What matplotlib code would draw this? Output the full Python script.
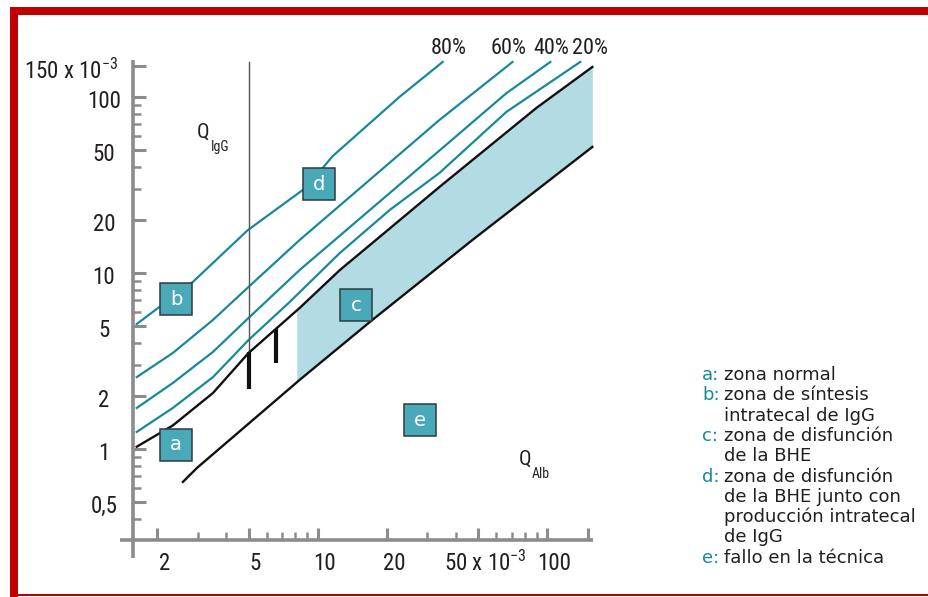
import os
import numpy as np
import matplotlib
matplotlib.use('Agg')
import matplotlib.pyplot as plt
from matplotlib import font_manager
from matplotlib.font_manager import FontProperties
from matplotlib.patches import Rectangle
from matplotlib.ticker import LogLocator, NullFormatter
from matplotlib.transforms import ScaledTranslation, blended_transform_factory

# Reiber diagram values (quotients x 10^-3)
qlim_upper_x = [1.63, 2.34, 3.50, 5.0, 8.35, 12.5, 17.3, 33.9, 89.6, 157]
qlim_upper_y = [1.03, 1.36, 2.08, 3.51, 6.33, 10.4, 14.8, 30.8, 86.6, 148]
qlim_lower_x = [2.59, 2.98, 8.35, 17.3, 47.2, 157]
qlim_lower_y = [0.65, 0.78, 2.47, 5.41, 15.4, 52]

if20_x = [1.63, 2.34, 3.50, 5.0, 7.55, 12.5, 20.6, 33.9, 66.3, 139]
if20_y = [1.25, 1.71, 2.56, 4.16, 6.84, 13.0, 22.8, 37.0, 82.2, 158]
if40_x = [1.63, 2.34, 3.50, 5.0, 8.35, 37.5, 66.3, 103]
if40_y = [1.71, 2.37, 3.56, 5.55, 10.4, 55.5, 105, 158]
if60_x = [1.63, 2.34, 3.50, 5.0, 8.35, 33.9, 70.5]
if60_y = [2.56, 3.51, 5.41, 8.33, 15.4, 74, 158]
if80_x = [1.63, 2.86, 4.96, 8.61, 10.0, 11.6, 22.7, 35.0]
if80_y = [5.13, 8.89, 17.5, 29.6, 36.5, 46.0, 100, 158]
if_labels = ['20%', '40%', '60%', '80%']
if_label_x = [154, 104, 67.7, 37.1]

shade_from = 8.11          # start of zone c
ref_line_x = 5.0           # thin vertical reference
ref_line_top = 158
mark_x = [5.0, 6.57]       # thick black marks
mark_lo = [2.19, 3.08]
mark_hi = [3.56, 4.81]

box_letters = ['a', 'b', 'c', 'd', 'e']
box_x = [2.42, 2.42, 14.7, 10.1, 27.9]
box_y = [1.06, 7.07, 6.54, 32.0, 1.46]

xtick_vals = [2, 5, 10, 20, 50, 100]
xtick_labels = ['2', '5', '10', '20', '50 x 10$\\mathregular{^{-3}}$', '100']
ytick_vals = [0.5, 1, 2, 5, 10, 20, 50, 100, 150]
ytick_labels = ['0,5', '1', '2', '5', '10', '20', '50', '100',
                '150 x 10$\\mathregular{^{-3}}$']

legend_letters = ['a', 'b', 'c', 'd', 'e']
legend_texts = ['zona normal',
                'zona de síntesis\nintratecal de IgG',
                'zona de disfunción\nde la BHE',
                'zona de disfunción\nde la BHE junto con\nproducción intratecal\nde IgG',
                'fallo en la técnica']

# colours
teal = '#17899a'
box_fill = '#4aa9b9'
shade = '#b3dbe3'
grey = '#8c8c8c'
ink = '#231f20'
red = '#c00000'

# look for a condensed face for the numbers (the original uses a narrow font)
prefs = ['liberationsansnarrow-regular', 'robotocondensed-regular',
         'roboto_condensed-regular', 'notosans-condensed.', 'dejavusanscondensed.',
         'opensans_condensed-regular', 'opensanscondensed-regular',
         'opensans-condensedregular']
found = {}
for f in font_manager.fontManager.ttflist:
    b = os.path.basename(f.fname).lower()
    for p in prefs:
        if b.startswith(p):
            found.setdefault(p, f.fname)
cond_file = None
for p in prefs:
    if p in found:
        cond_file = found[p]
        break

def cprop(size):
    if cond_file:
        return FontProperties(fname=cond_file, size=size)
    return FontProperties(family='DejaVu Sans', size=size * 0.78)

tsize = 16.5

W, H = 929, 597
fig = plt.figure(figsize=(W / 100, H / 100), dpi=100)
ax = fig.add_axes([133 / W, 1 - 540 / H, 460 / W, 479 / H])
ax.set_xscale('log')
ax.set_yscale('log')
ax.set_xlim(1.57, 158)
ax.set_ylim(0.304, 160)
for s in ax.spines.values():
    s.set_visible(False)

def px(dx, dy):
    return ScaledTranslation(dx / 100, dy / 100, fig.dpi_scale_trans)

# axis lines crossing at the origin
ax.plot([0, 0], [-18 / 479, 1.002], transform=ax.transAxes, color=grey,
        lw=2.6, clip_on=False, solid_capstyle='butt')
ax.plot([-13 / 460, 1], [0, 0], transform=ax.transAxes, color=grey,
        lw=2.6, clip_on=False, solid_capstyle='butt')

ax.set_xticks(xtick_vals + [150])
ax.set_yticks(ytick_vals)
ax.xaxis.set_minor_locator(LogLocator(base=10, subs=np.arange(2, 10)))
ax.yaxis.set_minor_locator(LogLocator(base=10, subs=np.arange(2, 10)))
ax.xaxis.set_minor_formatter(NullFormatter())
ax.yaxis.set_minor_formatter(NullFormatter())
ax.tick_params(which='both', direction='in', color=grey,
               labelbottom=False, labelleft=False)
ax.tick_params(which='major', length=9, width=2.2)
ax.tick_params(which='minor', length=6, width=1.8)

# tick labels
tx = blended_transform_factory(ax.transData, ax.transAxes)
for v, lab in zip(xtick_vals, xtick_labels):
    ax.text(v, 0, lab, transform=tx + px(7, -23), ha='center', va='center',
            fontproperties=cprop(tsize), color=ink)
ty = blended_transform_factory(ax.transAxes, ax.transData)
for v, lab in zip(ytick_vals, ytick_labels):
    if len(lab) > 4:
        ax.text(0, v, lab, transform=ty + px(-15, -5), ha='right', va='center',
                fontproperties=cprop(tsize), color=ink)
    else:
        ax.text(0, v, lab, transform=ty + px(-29, -5), ha='center', va='center',
                fontproperties=cprop(tsize), color=ink)

# zone c shading between the two limit curves
def loginterp(x, xp, yp):
    return 10 ** np.interp(np.log10(x), np.log10(xp), np.log10(yp))

fx = np.array(sorted(set([shade_from] + [v for v in qlim_upper_x + qlim_lower_x
                                          if v > shade_from])))
ax.fill_between(fx, loginterp(fx, qlim_lower_x, qlim_lower_y),
                loginterp(fx, qlim_upper_x, qlim_upper_y),
                color=shade, lw=0, zorder=1)

for xs, ys in [(if20_x, if20_y), (if40_x, if40_y), (if60_x, if60_y), (if80_x, if80_y)]:
    ax.plot(xs, ys, color=teal, lw=1.6, clip_on=False, zorder=2)
ax.plot(qlim_upper_x, qlim_upper_y, color='#111111', lw=1.7, clip_on=False, zorder=3)
ax.plot(qlim_lower_x, qlim_lower_y, color='#111111', lw=1.7, clip_on=False, zorder=3)

# percent labels above the ends of the curves
for lx, lab in zip(if_label_x, if_labels):
    ax.text(lx, 1, lab, transform=tx + px(0, 13), ha='center', va='center',
            fontproperties=cprop(16), color=ink)

ax.plot([ref_line_x, ref_line_x], [qlim_upper_y[3], ref_line_top], color='#555555',
        lw=1.0, clip_on=False, zorder=2)
for mx, lo, hi in zip(mark_x, mark_lo, mark_hi):
    ax.plot([mx, mx], [lo, hi], color='#111111', lw=3.0, solid_capstyle='butt', zorder=4)

ax.plot(box_x, box_y, 's', ms=23, mfc=box_fill, mec='#2e3b40', mew=1.1,
        ls='none', zorder=5)
for bx, by, lt in zip(box_x, box_y, box_letters):
    ax.text(bx, by, lt, ha='center', va='center', color='white', size=14,
            family='DejaVu Sans', zorder=6)

# axis titles
fig.text(203 / W, 1 - 132 / H, 'Q', fontproperties=cprop(15), color=ink,
         ha='center', va='center')
fig.text(211 / W, 1 - 147 / H, 'IgG', fontproperties=cprop(10), color=ink,
         ha='left', va='center')
fig.text(525 / W, 1 - 459 / H, 'Q', fontproperties=cprop(15), color=ink,
         ha='center', va='center')
fig.text(532 / W, 1 - 474 / H, 'Alb', fontproperties=cprop(10), color=ink,
         ha='left', va='center')

# legend
row = 0
for lt, txt in zip(legend_letters, legend_texts):
    for j, line in enumerate(txt.split('\n')):
        y = 1 - (375 + row * 20.3) / H
        if j == 0:
            fig.text(702 / W, y, lt + ':', color=teal, size=13,
                     family='DejaVu Sans', ha='left', va='center')
        fig.text(724 / W, y, line, color=ink, size=13, family='DejaVu Sans',
                 ha='left', va='center')
        row += 1

# red frame
fig.add_artist(Rectangle((10 / W, 1 - 15 / H), 1, 8 / H, transform=fig.transFigure,
                         color=red, lw=0))
fig.add_artist(Rectangle((10 / W, 0), 8 / W, 1 - 7 / H, transform=fig.transFigure,
                         color=red, lw=0))
fig.add_artist(Rectangle((18 / W, 1 / H), 1, 2 / H, transform=fig.transFigure,
                         color=red, lw=0))

fig.savefig('out.png', dpi=100)
